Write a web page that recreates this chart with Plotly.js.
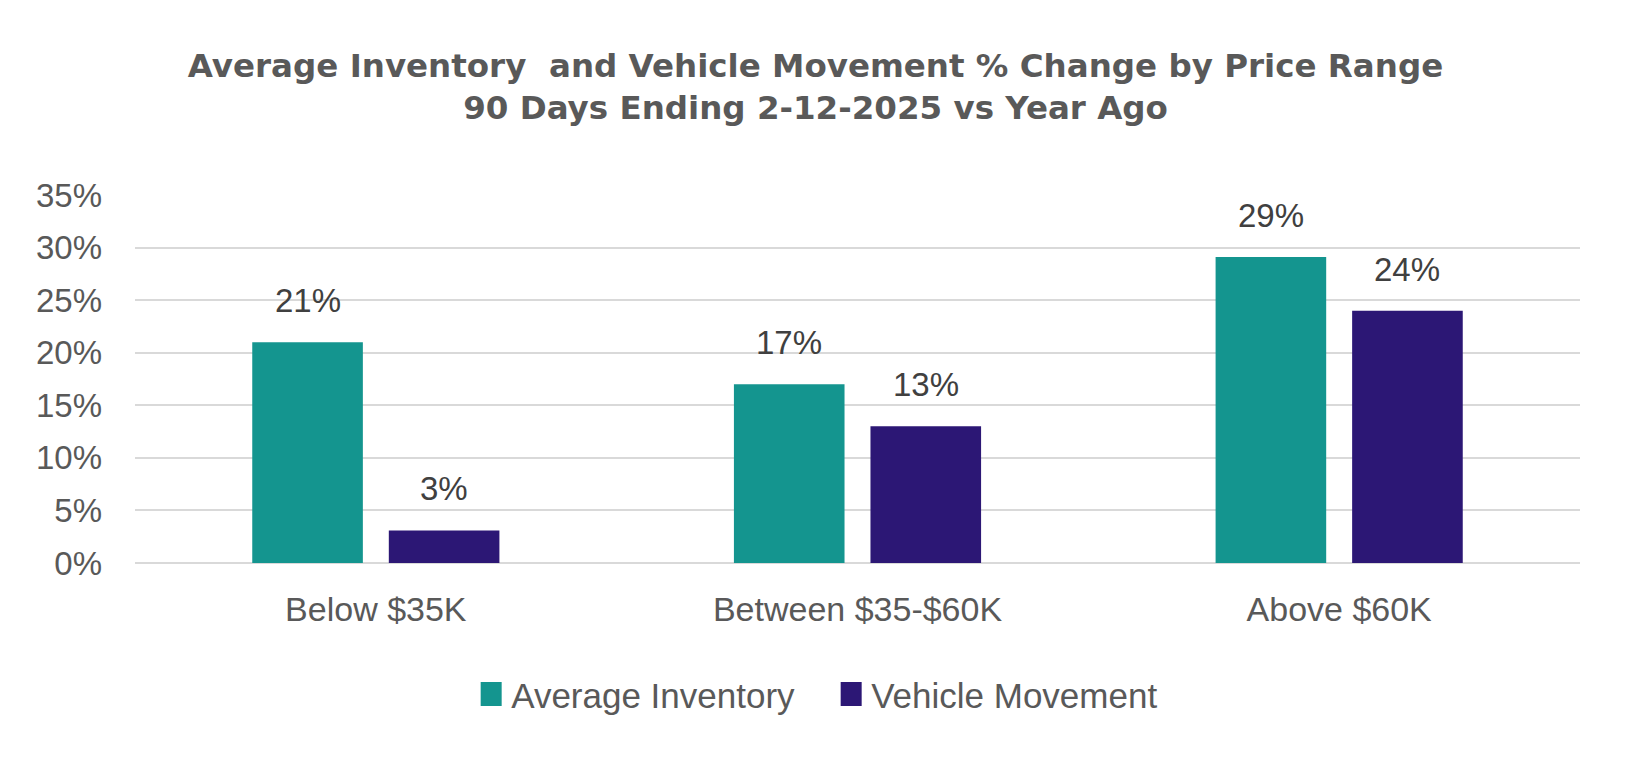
<!DOCTYPE html>
<html>
<head>
<meta charset="utf-8">
<script src="https://cdn.plot.ly/plotly-3.0.1.min.js"></script>
<style>
html, body { margin: 0; padding: 0; background: #ffffff; }
#chart { width: 1636px; height: 765px; }
.legend .legendpoints path { d: path("M10.5,12H-10.5V-12H10.5Z"); }
</style>
</head>
<body>
<div id="chart"></div>
<script>
// ---- data ----
const categories = ['Below $35K', 'Between $35-$60K', 'Above $60K'];
const seriesNames = ['Average Inventory', 'Vehicle Movement'];
const averageInventory = [0.21, 0.17, 0.291];
const vehicleMovement = [0.031, 0.13, 0.24];
const yTickValues = [0, 0.05, 0.10, 0.15, 0.20, 0.25, 0.30, 0.35];
const yTickLabels = ['0%', '5%', '10%', '15%', '20%', '25%', '30%', '35%'];
const titleText = 'Average Inventory  and Vehicle Movement % Change by Price Range<br>90 Days Ending 2-12-2025 vs Year Ago';

// ---- style ----
const teal = '#14958f';
const purple = '#2c1775';
const fontFamily = '"Liberation Sans", Arial, sans-serif';
const titleFamily = '"DejaVu Sans", "Liberation Sans", Arial, sans-serif';
const BARGAP = 0.433;
const BARGROUPGAP = 0.19;

const seriesValues = [averageInventory, vehicleMovement];
const seriesColors = [teal, purple];

const traces = seriesValues.map((vals, s) => ({
  type: 'bar',
  name: seriesNames[s],
  x: categories,
  y: vals,
  marker: { color: seriesColors[s], line: { width: 0 } },
  hoverinfo: 'skip'
}));

// value labels positioned over each bar of the group
const slot = (1 - BARGAP) / seriesValues.length;
const annotations = [];
seriesValues.forEach((vals, s) => {
  const offset = -((1 - BARGAP) / 2) + slot * (s + 0.5);
  vals.forEach((v, i) => {
    annotations.push({
      xref: 'x', yref: 'y',
      x: i + offset, y: v,
      text: Math.round(v * 100) + '%',
      showarrow: false,
      xanchor: 'center', yanchor: 'bottom',
      yshift: 21,
      font: { family: fontFamily, size: 33, color: '#404040' }
    });
  });
});

const layout = {
  width: 1636,
  height: 765,
  paper_bgcolor: '#ffffff',
  plot_bgcolor: '#ffffff',
  margin: { l: 135, r: 56, t: 195, b: 202 },
  title: {
    text: titleText,
    font: { family: titleFamily, size: 32.5, color: '#595959', weight: 'bold' },
    xref: 'container', x: 0.4985, xanchor: 'center',
    yref: 'container', y: 0.90, yanchor: 'top'
  },
  barmode: 'group',
  bargap: BARGAP,
  bargroupgap: BARGROUPGAP,
  xaxis: {
    type: 'category',
    showgrid: false,
    showline: false,
    zeroline: false,
    ticks: '',
    ticklabelstandoff: 23,
    tickfont: { family: fontFamily, size: 34, color: '#595959' }
  },
  yaxis: {
    range: [0, 0.35],
    tickvals: yTickValues,
    ticktext: yTickLabels,
    showgrid: true,
    gridcolor: '#d9d9d9',
    gridwidth: 2,
    zeroline: true,
    zerolinecolor: '#d9d9d9',
    zerolinewidth: 2,
    showline: false,
    ticks: '',
    ticklabelstandoff: 32,
    tickfont: { family: fontFamily, size: 33, color: '#595959' }
  },
  showlegend: true,
  legend: {
    orientation: 'h',
    xref: 'container', x: 0.288, xanchor: 'left',
    yref: 'container', y: 0.0925, yanchor: 'middle',
    entrywidth: 315,
    font: { family: fontFamily, size: 35, color: '#595959' },
    bgcolor: 'rgba(0,0,0,0)'
  },
  annotations: annotations
};

Plotly.newPlot('chart', traces, layout, { displayModeBar: false, staticPlot: true });
</script>
</body>
</html>
